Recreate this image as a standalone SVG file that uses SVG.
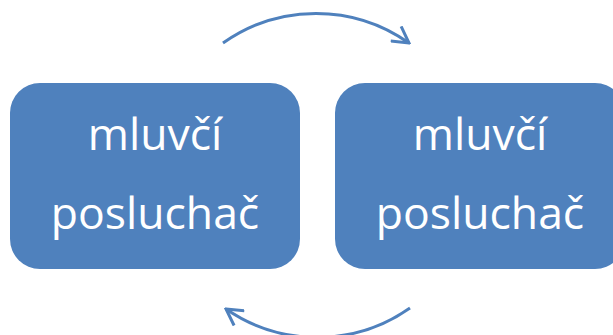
<svg xmlns="http://www.w3.org/2000/svg" width="613" height="335" viewBox="0 0 613 335">
<style>
.box{fill:#4F81BD;}
.lbl{font-family:"Open Sans","Noto Sans","DejaVu Sans",sans-serif;font-size:44.5px;fill:#FFFFFF;text-anchor:middle;}
.arc{fill:none;stroke:#4F81BD;stroke-width:3;}
</style>
<defs>
<marker id="arr" viewBox="0 0 20 20" markerWidth="20" markerHeight="20" refX="18" refY="10" orient="auto" markerUnits="userSpaceOnUse">
<path d="M2,1 L18,10 L2,19" fill="none" stroke="#4F81BD" stroke-width="3"/>
</marker>
</defs>
<rect width="613" height="335" fill="#FFFFFF"/>
<g id="node1">
<rect class="box" x="10" y="83" width="290" height="186" rx="30" ry="30"/>
<text class="lbl" x="155" y="150">mluvčí</text>
<text class="lbl" x="155" y="229">posluchač</text>
</g>
<g id="node2">
<rect class="box" x="335" y="83" width="290" height="186" rx="30" ry="30"/>
<text class="lbl" x="480" y="150">mluvčí</text>
<text class="lbl" x="480" y="229">posluchač</text>
</g>
<g id="connectors">
<path class="arc" d="M223,43 A161,161 0 0 1 409,43" marker-end="url(#arr)"/>
<path class="arc" d="M410,308 A161,161 0 0 1 226,309" marker-end="url(#arr)"/>
</g>
</svg>
